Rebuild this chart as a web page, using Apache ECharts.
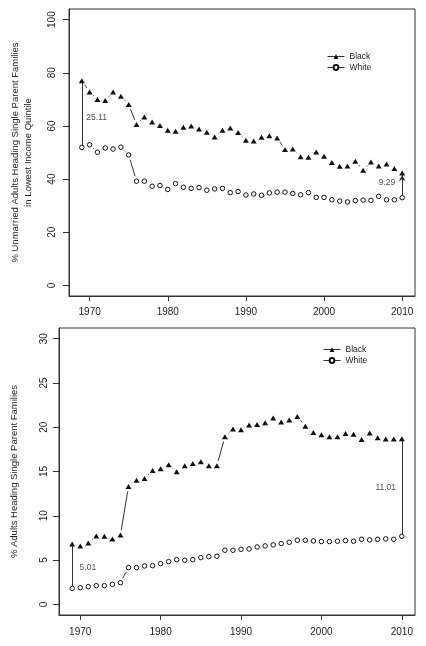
<!DOCTYPE html>
<html>
<head>
<meta charset="utf-8">
<script src="https://cdn.jsdelivr.net/npm/echarts@6/dist/echarts.min.js"></script>
<style>
html,body{margin:0;padding:0;background:#fff;}
#c{width:426px;height:646px;}
</style>
</head>
<body>
<div id="c"></div>
<script>
var years = [1969,1970,1971,1972,1973,1974,1975,1976,1977,1978,1979,1980,1981,1982,1983,1984,1985,1986,1987,1988,1989,1990,1991,1992,1993,1994,1995,1996,1997,1998,1999,2000,2001,2002,2003,2004,2005,2006,2007,2008,2009,2010];

// Top panel: % unmarried adults heading single parent families in lowest income quintile
var topBlack = [77.0,72.8,69.9,69.6,72.8,71.2,68.1,60.5,63.4,61.5,60.2,58.4,58.0,59.5,60.0,58.8,57.6,55.8,58.4,59.2,57.5,54.6,54.3,55.7,56.3,55.5,51.1,51.3,48.4,48.2,50.2,48.6,46.2,44.8,44.9,46.7,43.3,46.4,44.9,45.7,44.0,42.3];
var topWhite = [51.9,52.9,50.1,51.7,51.3,52.0,49.1,39.2,39.2,37.3,37.6,36.1,38.3,36.9,36.5,36.8,35.8,36.3,36.5,34.9,35.3,34.0,34.4,33.9,34.8,35.1,35.1,34.6,34.1,34.9,33.1,33.1,32.2,31.7,31.4,31.9,32.1,32.0,33.5,32.2,32.2,33.0];

// Bottom panel: % adults heading single parent families
var botBlack = [6.82,6.6,6.93,7.73,7.69,7.39,7.84,13.3,14.0,14.2,15.1,15.3,15.76,14.97,15.65,15.9,16.1,15.65,15.65,18.93,19.8,19.7,20.25,20.3,20.5,21.04,20.6,20.8,21.2,20.1,19.4,19.15,18.93,18.93,19.3,19.2,18.6,19.35,18.8,18.67,18.67,18.7];
var botWhite = [1.81,1.88,2.0,2.11,2.11,2.26,2.45,4.15,4.15,4.34,4.37,4.6,4.83,5.05,4.98,5.05,5.28,5.39,5.43,6.11,6.11,6.22,6.26,6.48,6.6,6.71,6.86,7.01,7.24,7.24,7.16,7.09,7.09,7.13,7.2,7.13,7.35,7.28,7.35,7.39,7.35,7.69];

var xTicks = [1970,1980,1990,2000,2010];
var topYTicks = [0,20,40,60,80,100];
var botYTicks = [0,5,10,15,20,25,30];

// gap annotations: [year, value, text]
var topNotes = [[1970.9, 63.1, '25.11'], [2008.05, 38.5, '9.29']];
var botNotes = [[1970.95, 4.19, '5.01'], [2008.0, 13.16, '11.01']];

var FONT = 'Liberation Sans';
var INK = '#222';
var LINE = '#333';
var GAP = 5; // px gap around points (R type="b")

function pairs(vals){ return years.map(function(y,i){ return [y, vals[i]]; }); }
function segments(vals){
  return years.slice(1).map(function(y,i){ return [years[i], vals[i], y, vals[i+1]]; });
}
function plain(v){ return String(v); }

function renderGapSeg(params, api){
  var a = api.coord([api.value(0), api.value(1)]);
  var b = api.coord([api.value(2), api.value(3)]);
  var dx = b[0]-a[0], dy = b[1]-a[1];
  var len = Math.sqrt(dx*dx+dy*dy);
  if (len <= 2*GAP) return null;
  var ux = dx/len, uy = dy/len;
  return {
    type:'line',
    shape:{x1:a[0]+ux*GAP, y1:a[1]+uy*GAP, x2:b[0]-ux*GAP, y2:b[1]-uy*GAP},
    style:{stroke:LINE, lineWidth:1}
  };
}

function xAxisFor(g, margin){
  return {
    type:'value', gridIndex:g, min:1967.36, max:2011.64,
    axisLine:{show:true, onZero:false, lineStyle:{color:LINE, width:1}},
    axisTick:{show:true, length:5, customValues:xTicks, lineStyle:{color:LINE, width:1}},
    axisLabel:{customValues:xTicks, formatter:plain, margin:margin, fontSize:10, color:INK, fontFamily:FONT},
    splitLine:{show:false}
  };
}
function yAxisFor(g, min, max, ticks, name, gap, margin){
  return {
    type:'value', gridIndex:g, min:min, max:max,
    axisLine:{show:true, onZero:false, lineStyle:{color:LINE, width:1}},
    axisTick:{show:true, length:6, customValues:ticks, lineStyle:{color:LINE, width:1}},
    axisLabel:{customValues:ticks, formatter:plain, rotate:90, margin:margin, fontSize:10, color:INK, fontFamily:FONT},
    splitLine:{show:false},
    name:name, nameLocation:'middle', nameRotate:90, nameGap:gap,
    nameTextStyle:{fontSize:9.5, color:INK, fontFamily:FONT, lineHeight:13}
  };
}

function panelSeries(g, black, white, notes, arrowHead, arrowBack){
  var s = [];
  var last = years.length - 1;
  s.push({
    name:'segB'+g, type:'custom', xAxisIndex:g, yAxisIndex:g, data:segments(black),
    encode:{x:[0,2], y:[1,3]}, renderItem:renderGapSeg, z:2, silent:true, animation:false, clip:false
  });
  s.push({
    name:'segW'+g, type:'custom', xAxisIndex:g, yAxisIndex:g, data:segments(white),
    encode:{x:[0,2], y:[1,3]}, renderItem:renderGapSeg, z:2, silent:true, animation:false, clip:false
  });
  s.push({
    name:'Black', type:'line', xAxisIndex:g, yAxisIndex:g, data:pairs(black),
    symbol:'triangle', symbolSize:[6,5], z:6, silent:true, showAllSymbol:true,
    itemStyle:{color:'#111', opacity:1}, lineStyle:{color:LINE, width:1, opacity:0}, animation:false,
    markLine:{
      silent:true, animation:false, z:5,
      symbol:['none','none'], symbolSize:[5,6],
      lineStyle:{color:LINE, width:1, type:'solid', opacity:1}, label:{show:false},
      data:[
        [{coord:[years[0], white[0]], symbol:'none'}, {coord:[years[0], black[0]], symbol:'none'}],
        [{coord:[years[last], white[last]], symbol:'none'},
         {coord:[years[last], black[last] - arrowBack], symbol: arrowHead ? 'arrow' : 'none'}]
      ]
    }
  });
  s.push({
    name:'White', type:'line', xAxisIndex:g, yAxisIndex:g, data:pairs(white),
    symbol:'circle', symbolSize:4.5, z:6, silent:true, showAllSymbol:true,
    itemStyle:{color:'#fff', borderColor:'#111', borderWidth:1, opacity:1},
    lineStyle:{color:LINE, width:1, opacity:0}, animation:false
  });
  s.push({
    name:'notes'+g, type:'scatter', xAxisIndex:g, yAxisIndex:g,
    data:notes.map(function(n){ return {value:[n[0], n[1]], label:{formatter:n[2]}}; }),
    symbolSize:0, z:7, silent:true, animation:false,
    label:{show:true, position:'inside', fontSize:8.5, color:INK, fontFamily:FONT}
  });
  return s;
}

function legendFor(left, top){
  return {
    data:['Black','White'], orient:'vertical', left:left, top:top, padding:0, itemGap:2,
    itemWidth:17, itemHeight:6, selectedMode:false,
    lineStyle:{color:LINE, width:1, opacity:1},
    textStyle:{fontSize:8.5, color:INK, fontFamily:FONT}
  };
}

var chart = echarts.init(document.getElementById('c'), null, {renderer:'canvas'});
chart.setOption({
  animation:false,
  backgroundColor:'#fff',
  grid:[
    {left:69, top:9, right:11, height:287, show:true, borderColor:LINE, borderWidth:1, backgroundColor:'transparent'},
    {left:57, top:328, right:11, height:287, show:true, borderColor:LINE, borderWidth:1, backgroundColor:'transparent'}
  ],
  xAxis:[xAxisFor(0, 11), xAxisFor(1, 12)],
  yAxis:[
    yAxisFor(0, -4, 104, topYTicks, '% Unmarried Adults Heading Single Parent Families\nin Lowest Income Quintile', 34, 12),
    yAxisFor(1, -1.2, 31.2, botYTicks, '% Adults Heading Single Parent Families', 38, 10)
  ],
  legend:[legendFor(327, 52), legendFor(323, 345)],
  series: panelSeries(0, topBlack, topWhite, topNotes, true, 0.8)
          .concat(panelSeries(1, botBlack, botWhite, botNotes, false, 0))
});
</script>
</body>
</html>
